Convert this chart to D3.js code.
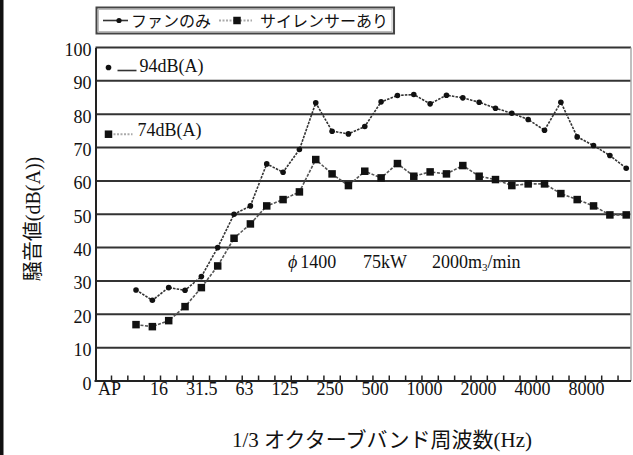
<!DOCTYPE html>
<html>
<head>
<meta charset="utf-8">
<script src="https://cdn.jsdelivr.net/npm/d3@7"></script>
<style>
  html, body { margin: 0; padding: 0; background: #fff; }
  svg { display: block; }
  text { font-family: "Liberation Serif", "Noto Sans CJK JP", serif; fill: #111; }
</style>
</head>
<body>
<svg id="chart" width="633" height="455"></svg>
<script>
// 1/3 octave band centre frequencies (Hz)
const bands = ["12.5","16","20","25","31.5","40","50","63","80","100","125","160","200","250","315",
  "400","500","630","800","1000","1250","1600","2000","2500","3150","4000","5000","6300","8000","10000","12500"];
// overall-value slot shown before the bands
const apLabel = "AP";

// sound level per band, dB(A)
const fanOnly = [27.3, 24.2, 28.0, 27.2, 31.3, 40.0, 50.0, 52.5, 65.1, 62.6, 69.4, 83.4, 74.9, 74.1, 76.3,
  83.7, 85.6, 85.9, 83.1, 85.7, 84.9, 83.6, 81.8, 80.3, 78.4, 75.2, 83.6, 73.2, 70.6, 67.6, 63.8];
const withSilencer = [16.9, 16.3, 18.1, 22.3, 28.0, 34.5, 42.8, 47.1, 52.5, 54.4, 56.7, 66.4, 62.1, 58.6, 62.9,
  60.9, 65.2, 61.4, 62.7, 62.1, 64.6, 61.4, 60.4, 58.6, 59.1, 59.1, 56.2, 54.4, 52.5, 49.8, 49.8];
// overall values
const fanOnlyAP = 94;
const withSilencerAP = 74;

const seriesNames = ["ファンのみ", "サイレンサーあり"];
const yTicks = [0, 10, 20, 30, 40, 50, 60, 70, 80, 90, 100];
const xTickLabels = ["AP", "16", "31.5", "63", "125", "250", "500", "1000", "2000", "4000", "8000"];

const svg = d3.select("#chart");

const plotLeft = 95.5, plotRight = 631, plotTop = 47.5, plotBottom = 381;
const step = 16.34;

const x = d3.scaleBand()
  .domain([apLabel, ...bands])
  .range([111.5, 111.5 + step * (bands.length + 1)])
  .padding(0);
const cx = d => x(d) + x.bandwidth() / 2;

const y = d3.scaleLinear().domain([0, 100]).range([plotBottom, plotTop]);

// left frame edge
svg.append("rect").attr("x", 0).attr("y", 0).attr("width", 3.5).attr("height", 455).attr("fill", "#111");

// horizontal grid
svg.append("g").selectAll("line").data(yTicks.filter(v => v > 0)).join("line")
  .attr("x1", plotLeft).attr("x2", plotRight)
  .attr("y1", d => y(d)).attr("y2", d => y(d))
  .attr("stroke", "#333").attr("stroke-width", 2);

// right border
svg.append("line").attr("x1", plotRight).attr("x2", plotRight)
  .attr("y1", plotTop).attr("y2", plotBottom)
  .attr("stroke", "#aaa").attr("stroke-width", 1.5);

// y axis
const yAxis = svg.append("g").attr("transform", `translate(${plotLeft},0)`)
  .call(d3.axisLeft(y).tickValues(yTicks).tickSize(0).tickPadding(4));
yAxis.select(".domain").attr("stroke", "#222").attr("stroke-width", 2);
yAxis.selectAll("text").attr("font-size", 18).attr("font-family", "Liberation Serif")
  .attr("fill", "#111").attr("dy", 8);

// x axis baseline with inward ticks at band boundaries
svg.append("line").attr("x1", plotLeft - 1).attr("x2", plotRight)
  .attr("y1", plotBottom).attr("y2", plotBottom)
  .attr("stroke", "#222").attr("stroke-width", 2);
svg.append("g").selectAll("line").data(x.domain()).join("line")
  .attr("x1", d => x(d)).attr("x2", d => x(d))
  .attr("y1", plotBottom).attr("y2", plotBottom - 5.5)
  .attr("stroke", "#222").attr("stroke-width", 1.5);

// x tick labels, set as one running line of text
const labelRow = svg.append("g");
let cursor = 98;
xTickLabels.forEach((t, i) => {
  const el = labelRow.append("text").attr("x", cursor).attr("y", 395)
    .attr("font-size", 18).text(t);
  cursor += el.node().getComputedTextLength() + (i === 0 ? 29 : 18);
});

// series
const line = d3.line().x(d => cx(d.band)).y(d => y(d.v));
const fanData = bands.map((b, i) => ({ band: b, v: fanOnly[i] }));
const silData = bands.map((b, i) => ({ band: b, v: withSilencer[i] }));

svg.append("path").datum(silData).attr("d", line)
  .attr("fill", "none").attr("stroke", "#555").attr("stroke-width", 1.6)
  .attr("stroke-dasharray", "3,1.5");
svg.append("path").datum(fanData).attr("d", line)
  .attr("fill", "none").attr("stroke", "#333").attr("stroke-width", 1.6)
  .attr("stroke-dasharray", "2.5,1.2");

const sq = 7.5;
svg.append("g").selectAll("rect").data(silData).join("rect")
  .attr("x", d => cx(d.band) - sq / 2).attr("y", d => y(d.v) - sq / 2)
  .attr("width", sq).attr("height", sq).attr("fill", "#111");
svg.append("g").selectAll("circle").data(fanData).join("circle")
  .attr("cx", d => cx(d.band)).attr("cy", d => y(d.v)).attr("r", 2.8).attr("fill", "#111");

// overall values at the AP slot
const apX = x(apLabel) - 3;
svg.append("circle").attr("cx", apX).attr("cy", y(fanOnlyAP)).attr("r", 2.8).attr("fill", "#111");
svg.append("line").attr("x1", apX + 9).attr("x2", apX + 28)
  .attr("y1", y(fanOnlyAP) + 3).attr("y2", y(fanOnlyAP) + 3)
  .attr("stroke", "#333").attr("stroke-width", 1.6);
svg.append("text").attr("x", apX + 31).attr("y", y(fanOnlyAP) + 4).attr("font-size", 18)
  .text(`${fanOnlyAP}dB(A)`);

svg.append("rect").attr("x", apX - sq / 2).attr("y", y(withSilencerAP) - sq / 2)
  .attr("width", sq).attr("height", sq).attr("fill", "#111");
svg.append("line").attr("x1", apX + 5).attr("x2", apX + 24)
  .attr("y1", y(withSilencerAP)).attr("y2", y(withSilencerAP))
  .attr("stroke", "#aaa").attr("stroke-width", 2).attr("stroke-dasharray", "2,1.5");
svg.append("text").attr("x", apX + 29).attr("y", y(withSilencerAP) + 2).attr("font-size", 18)
  .text(`${withSilencerAP}dB(A)`);

// operating condition note
const note = svg.append("g").attr("font-size", 18);
const dia = note.append("text").attr("x", 288).attr("y", 268);
dia.append("tspan").attr("font-style", "italic").text("ϕ");
dia.append("tspan").attr("dx", 3).text("1400");
note.append("text").attr("x", 363).attr("y", 268).text("75kW");
const flow = note.append("text").attr("x", 432).attr("y", 268);
flow.append("tspan").text("2000m");
flow.append("tspan").attr("font-size", 11).attr("dy", 3).text("3");
flow.append("tspan").attr("dy", -3).text("/min");

// legend
const lg = svg.append("g");
const lgY = 20.5;
lg.append("line").attr("x1", 103).attr("x2", 128).attr("y1", lgY).attr("y2", lgY)
  .attr("stroke", "#333").attr("stroke-width", 1.6);
lg.append("circle").attr("cx", 119).attr("cy", lgY).attr("r", 2.6).attr("fill", "#111");
const t1 = lg.append("text").attr("x", 131).attr("y", lgY + 6).attr("font-size", 16).text(seriesNames[0]);
const s2 = t1.node().getComputedTextLength() + 131 + 8;
lg.append("line").attr("x1", s2).attr("x2", s2 + 33).attr("y1", lgY).attr("y2", lgY)
  .attr("stroke", "#aaa").attr("stroke-width", 2).attr("stroke-dasharray", "2,1.5");
lg.append("rect").attr("x", s2 + 18 - sq / 2).attr("y", lgY - sq / 2)
  .attr("width", sq).attr("height", sq).attr("fill", "#111");
const t2 = lg.append("text").attr("x", s2 + 41).attr("y", lgY + 6).attr("font-size", 16).text(seriesNames[1]);
const lgRight = s2 + 41 + t2.node().getComputedTextLength() + 6;
lg.insert("rect", ":first-child").attr("x", 96.5).attr("y", 7.5)
  .attr("width", lgRight - 96.5).attr("height", 26)
  .attr("fill", "#fff").attr("stroke", "#444").attr("stroke-width", 2);
lg.insert("rect", ":nth-child(2)").attr("x", 98.5).attr("y", 9.5)
  .attr("width", lgRight - 100.5).attr("height", 22)
  .attr("fill", "none").attr("stroke", "#bbb").attr("stroke-width", 1);

// axis titles
svg.append("text").attr("transform", "translate(40,219) rotate(-90)")
  .attr("text-anchor", "middle").attr("font-size", 20).text("騒音値(dB(A))");
svg.append("text").attr("x", 382).attr("y", 447)
  .attr("text-anchor", "middle").attr("font-size", 21).text("1/3 オクターブバンド周波数(Hz)");
</script>
</body>
</html>
